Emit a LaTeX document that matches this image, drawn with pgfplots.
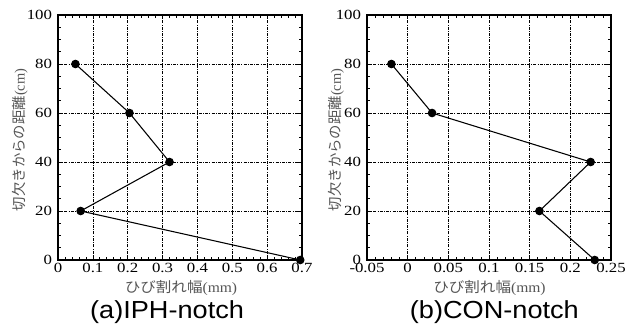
\documentclass[border=0pt]{standalone}
\usepackage{graphicx}
\usepackage{pgfplots}
\pgfplotsset{compat=1.18}
\usepackage{fontspec}
\setmainfont{Liberation Serif}
\newfontfamily\cjk{Noto Sans CJK JP}
\newfontfamily\arial{Liberation Sans}
\definecolor{labgray}{RGB}{85,85,85}
\newcommand{\sx}[1]{\scalebox{1.2}[1]{#1}}
\pgfplotsset{
  myax/.style={
    scale only axis, width=183pt, height=183.75pt,
    anchor=south west,
    ymin=0, ymax=100, ytick={0,20,...,100},
    yticklabels={\sx{0},\sx{20},\sx{40},\sx{60},\sx{80},\sx{100}},
    minor y tick num=3, minor x tick num=4,
    grid=major,
    major grid style={black, line width=0.5pt, dash pattern=on 2.2pt off 1pt on 0.6pt off 1pt},
    axis line style={line width=1.2pt},
    tick style={black, line width=0.5pt},
    major tick length=3pt, minor tick length=2pt,
    tick align=inside,
    tick label style={font=\fontsize{10.5}{12}\selectfont},
    xticklabel style={yshift=1pt},
    yticklabel style={xshift=-1pt},
    xlabel style={font=\fontsize{10.8}{12}\selectfont\color{labgray}, anchor=center},
    ylabel style={font=\fontsize{10.8}{12}\selectfont\color{labgray}, anchor=center},
    xlabel={\scalebox{1.08}[1]{{\cjk ひび割れ幅}(mm)}},
    ylabel={{\cjk 切欠きからの距離}(cm)},
    clip=false,
  },
  myplot/.style={black, line width=0.8pt, mark=*, mark size=2.8pt, mark options={solid, fill=black}},
}
\begin{document}
\begin{tikzpicture}[x=0.75pt,y=0.75pt]
\path[use as bounding box] (-58,-69) rectangle (578,260);
\begin{axis}[myax, at={(0pt,0pt)},
  xmin=0, xmax=0.7, xtick={0,0.1,0.2,0.3,0.4,0.5,0.6,0.7},
  xticklabels={\sx{0},\sx{0.1},\sx{0.2},\sx{0.3},\sx{0.4},\sx{0.5},\sx{0.6},\sx{0.7}},
  xlabel style={at={(axis description cs:0.504,-0.114)}},
  ylabel style={at={(axis description cs:-0.156,0.49)}}]
\addplot[myplot] coordinates {(0.05,80) (0.205,60) (0.32,40) (0.065,20) (0.695,0)};
\node[font=\arial\fontsize{18.5}{20}\selectfont] at (axis description cs:0.447,-0.212) {\scalebox{1.1}[1]{(a)IPH-notch}};
\end{axis}
\begin{axis}[myax, at={(231.75pt,0pt)},
  xmin=-0.05, xmax=0.25, xtick={-0.05,0,0.05,0.1,0.15,0.2,0.25},
  xticklabels={\sx{-0.05},\sx{0},\sx{0.05},\sx{0.1},\sx{0.15},\sx{0.2},\sx{0.25}},
  xlabel style={at={(axis description cs:0.502,-0.114)}},
  ylabel style={at={(axis description cs:-0.126,0.49)}}]
\addplot[myplot] coordinates {(-0.02,80) (0.03,60) (0.225,40) (0.162,20) (0.23,0)};
\node[font=\arial\fontsize{18.5}{20}\selectfont] at (axis description cs:0.522,-0.212) {\scalebox{1.1}[1]{(b)CON-notch}};
\end{axis}
\end{tikzpicture}
\end{document}
